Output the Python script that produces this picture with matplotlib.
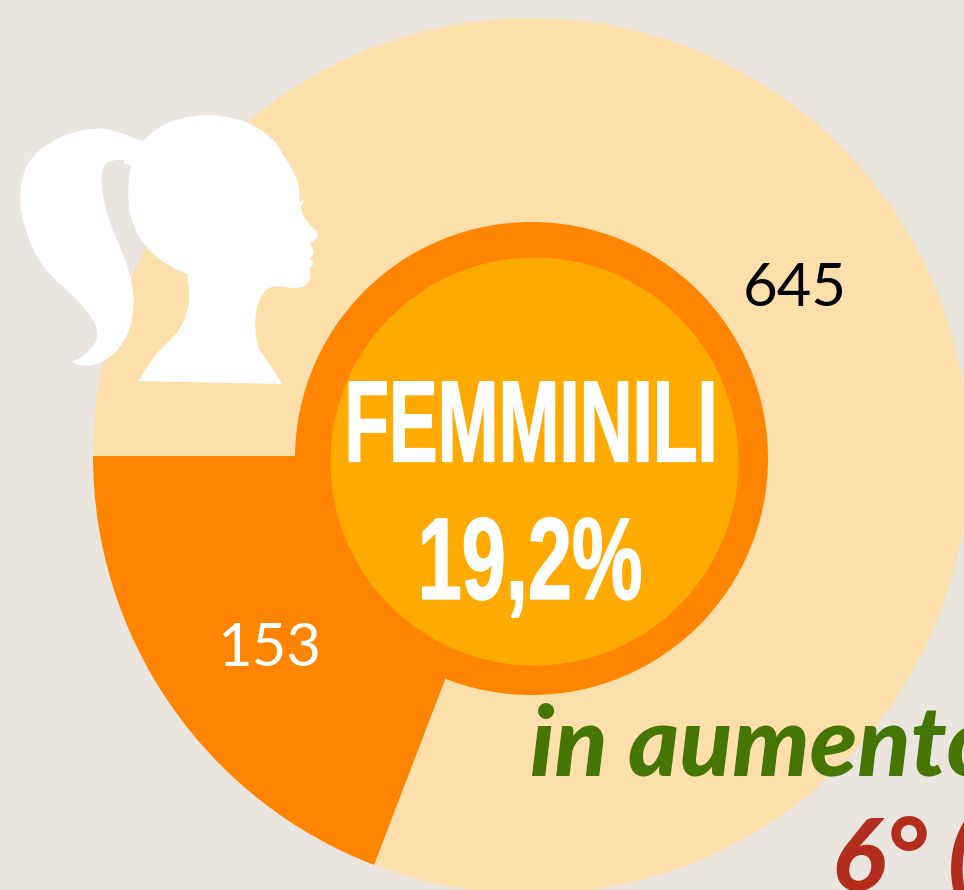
import matplotlib
matplotlib.use('Agg')
import matplotlib.pyplot as plt
from matplotlib.patches import Circle, PathPatch
from matplotlib.path import Path
from matplotlib.patheffects import AbstractPathEffect
from matplotlib.transforms import Affine2D

W, H = 964, 890

values = [153, 645]
slice_colors = ['#FF8500', '#FDDFAB']
title_text = 'FEMMINILI'
share_text = '19,2%'
trend_text = 'in aumento'
rank_text = '6° ('

# silhouette outline, pixels of a 3x crop at (0, 100)
head = [(620, 43), (690, 50), (750, 70), (800, 100), (835, 135), (848, 165), (870, 195),
        (888, 230), (898, 265), (898, 305), (898, 305), (915, 298), (915, 298), (902, 318),
        (905, 335), (920, 365), (945, 390), (956, 403), (950, 418), (928, 430), (928, 430),
        (942, 450), (938, 468), (928, 475), (928, 475), (940, 485), (938, 497), (928, 505),
        (928, 505), (933, 530), (925, 550), (905, 563), (880, 565), (840, 558), (805, 562),
        (785, 585), (768, 625), (765, 680), (770, 730), (785, 760), (815, 800), (846, 852),
        (846, 852), (415, 843), (415, 843), (460, 770), (500, 730), (540, 690), (565, 630),
        (570, 580), (560, 522), (560, 522), (510, 500), (460, 465), (420, 420), (395, 365),
        (384, 310), (385, 250), (393, 198), (393, 198), (372, 190), (372, 190), (372, 180),
        (372, 180), (340, 180), (315, 190), (304, 220), (305, 270), (320, 340), (350, 420),
        (385, 500), (400, 570), (402, 620), (390, 690), (360, 745), (320, 780), (280, 797),
        (245, 798), (212, 786), (212, 786), (250, 770), (280, 740), (295, 705), (285, 670),
        (255, 625), (200, 570), (130, 505), (95, 440), (70, 370), (58, 300), (65, 230),
        (95, 170), (150, 125), (220, 95), (290, 83), (340, 90), (405, 115), (405, 115),
        (430, 122), (430, 122), (470, 85), (530, 55)]


class Squeeze(AbstractPathEffect):
    # narrows a text around x0, there is no condensed enough font installed
    def __init__(self, sx, x0, stroke=0):
        super().__init__()
        self.sx = sx
        self.x0 = x0
        self.stroke = stroke

    def draw_path(self, renderer, gc, tpath, affine, rgbFace=None):
        t = Affine2D().translate(-self.x0, 0).scale(self.sx, 1).translate(self.x0, 0)
        gc0 = renderer.new_gc()
        gc0.copy_properties(gc)
        gc0.set_linewidth(self.stroke)
        gc0.set_foreground(rgbFace)
        gc0.set_joinstyle('miter')
        renderer.draw_path(gc0, tpath, affine + t, rgbFace)
        gc0.restore()


def smooth_path(points):
    pts = [(x / 3, H - (y / 3 + 100)) for x, y in points]
    n = len(pts)
    mid = lambda a, b: ((a[0] + b[0]) / 2, (a[1] + b[1]) / 2)
    verts = [mid(pts[-1], pts[0])]
    codes = [Path.MOVETO]
    for i in range(n):
        verts += [pts[i], mid(pts[i], pts[(i + 1) % n])]
        codes += [Path.CURVE3, Path.CURVE3]
    return Path(verts, codes)


fig = plt.figure(figsize=(W / 100, H / 100), dpi=100, facecolor='#EAE5DF')
ax = fig.add_axes([0, 0, 1, 1])

ax.pie(values, colors=slice_colors, startangle=180, counterclock=True,
       radius=438, center=(531, H - 456), wedgeprops={'linewidth': 0})
ax.set_xlim(0, W)
ax.set_ylim(0, H)
ax.set_aspect('equal')
ax.axis('off')

ax.add_patch(Circle((531.5, H - 458.5), 236.5, color='#FF8500', lw=0, zorder=3))
ax.add_patch(Circle((534.5, H - 461.5), 204, color='#FFAA00', lw=0, zorder=4))
ax.add_patch(PathPatch(smooth_path(head), facecolor='white', lw=0, zorder=5))

ax.text(795, H - 306, str(values[1]), family='Lato', fontsize=43, color='black',
        ha='center', va='baseline', zorder=6)
ax.text(269, H - 666, str(values[0]), family='Lato', fontsize=43, color='white',
        ha='center', va='baseline', zorder=6)

t1 = ax.text(531, H - 461.5, title_text, family='Liberation Sans', weight='bold', fontsize=83.5,
             color='white', ha='center', va='baseline', zorder=6)
t1.set_path_effects([Squeeze(0.63, 531, stroke=1)])
t2 = ax.text(530, H - 599, share_text, family='Liberation Sans', weight='bold', fontsize=84,
             color='white', ha='center', va='baseline', zorder=6)
t2.set_path_effects([Squeeze(0.68, 530, stroke=1)])

ax.text(530, H - 775, trend_text, family='Lato', weight='black', style='italic', fontsize=70,
        color='#457505', ha='left', va='baseline', zorder=6)
ax.text(832, H - 890, rank_text, family='Lato', weight='black', style='italic', fontsize=72,
        color='#B32D1C', ha='left', va='baseline', zorder=6)

fig.savefig('out.png', dpi=100, facecolor=fig.get_facecolor())
